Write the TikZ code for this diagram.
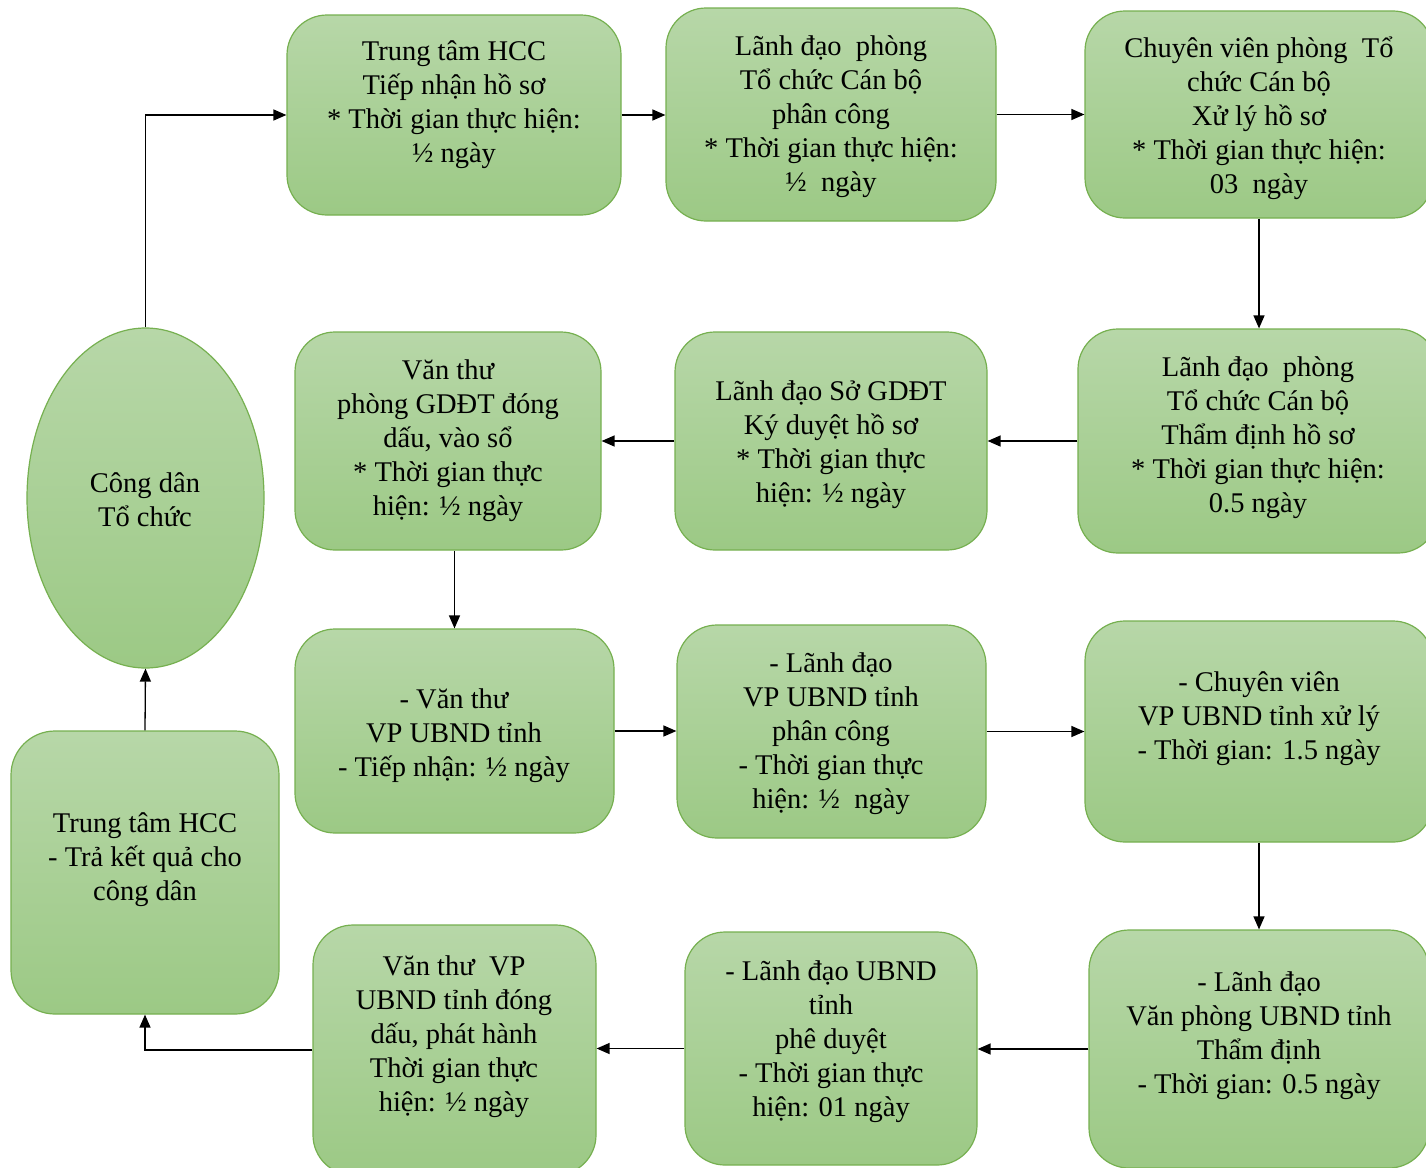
\documentclass[tikz,border=0pt]{standalone}
\usepackage{fontspec}
\setmainfont{Liberation Serif}
\usetikzlibrary{arrows.meta,shapes.geometric}
\definecolor{gtop}{RGB}{183,215,168}
\definecolor{gbot}{RGB}{156,201,133}
\definecolor{gline}{RGB}{118,176,80}
\tikzset{
  procbox/.style={draw=gline, line width=1.2pt, rounded corners=40pt,
    top color=gtop, bottom color=gbot, inner sep=0pt},
  ovalbox/.style={ellipse, draw=gline, line width=1.2pt,
    top color=gtop, bottom color=gbot, inner sep=0pt},
  txt/.style={align=center, inner sep=0pt, yshift=-3pt,
    font=\fontsize{28.5}{34}\selectfont},
  flow/.style={line width=1.3pt, -{Triangle[length=13pt,width=11pt]}}
}
\begin{document}
\begin{tikzpicture}[x=1pt,y=-1pt]
\clip (0,0) rectangle (1426,1167);
\fill[white] (0,0) rectangle (1426,1167);
% boxes
\node[procbox, minimum width=334pt, minimum height=200pt] (A) at (454,115) {};
\node[procbox, minimum width=330pt, minimum height=213pt] (B) at (831,114.5) {};
\node[procbox, minimum width=348pt, minimum height=207pt] (C) at (1259,114.5) {};
\node[procbox, minimum width=306pt, minimum height=218pt] (D) at (448,441) {};
\node[procbox, minimum width=312pt, minimum height=218pt] (E) at (831,441) {};
\node[procbox, minimum width=360pt, minimum height=224pt] (F) at (1258,441) {};
\node[ovalbox, minimum width=237pt, minimum height=340pt] (O) at (145.5,498) {};
\node[procbox, minimum width=319pt, minimum height=204pt] (G) at (454.5,731) {};
\node[procbox, minimum width=309pt, minimum height=213pt] (H) at (831.5,731.5) {};
\node[procbox, minimum width=348pt, minimum height=221pt] (I) at (1259,731.5) {};
\node[procbox, rounded corners=44pt, minimum width=268pt, minimum height=283pt] (J) at (145,872.5) {};
\node[procbox, minimum width=283pt, minimum height=250pt] (K) at (454.5,1050) {};
\node[procbox, minimum width=292pt, minimum height=233pt] (L) at (831,1048.5) {};
\node[procbox, minimum width=340pt, minimum height=238pt] (M) at (1259,1049) {};
% texts
\node[txt] (At) at (454,102) {Trung tâm HCC\\Tiếp nhận hồ sơ\\* Thời gian thực hiện:\\½ ngày};
\node[txt] (Bt) at (831,114) {Lãnh đạo\ \ phòng\\Tổ chức Cán bộ\\phân công\\* Thời gian thực hiện:\\½\ \ ngày};
\node[txt] (Ct) at (1259,115.5) {Chuyên viên phòng\ \ Tổ\\chức Cán bộ\\Xử lý hồ sơ\\* Thời gian thực hiện:\\03\ \ ngày};
\node[txt] (Dt) at (448,438) {Văn thư\\phòng GDĐT đóng\\dấu, vào sổ\\* Thời gian thực\\hiện: ½ ngày};
\node[txt] (Et) at (831,441.5) {Lãnh đạo Sở GDĐT\\Ký duyệt hồ sơ\\* Thời gian thực\\hiện: ½ ngày};
\node[txt] (Ft) at (1258,435) {Lãnh đạo\ \ phòng\\Tổ chức Cán bộ\\Thẩm định hồ sơ\\* Thời gian thực hiện:\\0.5 ngày};
\node[txt, yshift=2pt] (Ot) at (145,499) {Công dân\\Tổ chức};
\node[txt] (Gt) at (454,733) {- Văn thư\\VP UBND tỉnh\\- Tiếp nhận: ½ ngày};
\node[txt] (Ht) at (831,730.5) {- Lãnh đạo\\VP UBND tỉnh\\phân công\\- Thời gian thực\\hiện: ½\ \ ngày};
\node[txt] (It) at (1259,715.5) {- Chuyên viên\\VP UBND tỉnh xử lý\\- Thời gian: 1.5 ngày};
\node[txt] (Jt) at (145,857) {Trung tâm HCC\\- Trả kết quả cho\\công dân};
\node[txt] (Kt) at (454,1033.5) {Văn thư\ \ VP\\UBND tỉnh đóng\\dấu, phát hành\\Thời gian thực\\hiện: ½ ngày};
\node[txt] (Lt) at (831,1039) {- Lãnh đạo UBND\\tỉnh\\phê duyệt\\- Thời gian thực\\hiện: 01 ngày};
\node[txt] (Mt) at (1259,1032.5) {- Lãnh đạo\\Văn phòng UBND tỉnh\\Thẩm định\\- Thời gian: 0.5 ngày};
% connectors
\draw[flow] (O.north) |- (A.west);
\draw[flow] (A.east) -- (A.east -| B.west);
\draw[flow] (B.east) -- (B.east -| C.west);
\draw[flow] (C.south) -- (C.south |- F.north);
\draw[flow] (F.west) -- (F.west -| E.east);
\draw[flow] (E.west) -- (E.west -| D.east);
\draw[flow] (G.north |- D.south) -- (G.north);
\draw[flow] (G.east) -- (G.east -| H.west);
\draw[flow] (H.east) -- (H.east -| I.west);
\draw[flow] (I.south) -- (I.south |- M.north);
\draw[flow] (M.west) -- (M.west -| L.east);
\draw[flow] (L.west) -- (L.west -| K.east);
\draw[flow] (K.west) -| (J.south);
\draw[flow] (J.north) -- (O.south);
\end{tikzpicture}
\end{document}
